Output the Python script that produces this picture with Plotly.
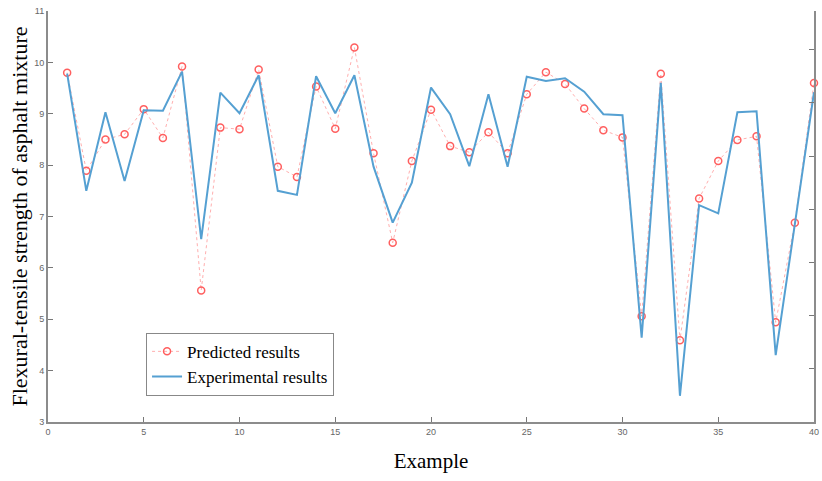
import plotly.graph_objects as go

examples = list(range(1, 41))
predicted = [9.80, 7.89, 8.50, 8.60, 9.09, 8.53, 9.92, 5.56, 8.73, 8.70,
             9.86, 7.97, 7.77, 9.53, 8.71, 10.29, 8.23, 6.49, 8.08, 9.08,
             8.37, 8.25, 8.64, 8.23, 9.38, 9.81, 9.58, 9.10, 8.68, 8.54,
             5.06, 9.78, 4.59, 7.35, 8.08, 8.49, 8.56, 4.94, 6.88, 9.60]
experimental = [9.78, 7.50, 9.03, 7.69, 9.07, 9.06, 9.82, 6.56, 9.41, 9.01,
                9.75, 7.50, 7.42, 9.73, 9.01, 9.75, 7.97, 6.88, 7.66, 9.51,
                8.99, 7.98, 9.38, 7.97, 9.72, 9.64, 9.69, 9.43, 8.99, 8.97,
                4.64, 9.60, 3.51, 7.22, 7.06, 9.03, 9.05, 4.30, 6.85, 9.42]
x_ticks = [0, 5, 10, 15, 20, 25, 30, 35, 40]
y_ticks = [3, 4, 5, 6, 7, 8, 9, 10, 11]
y_title = "Flexural-tensile strength of asphalt mixture"

fig = go.Figure()
fig.add_trace(go.Scatter(
    x=examples, y=predicted, mode="lines+markers", name="Predicted results",
    line=dict(color="rgba(255,120,120,0.6)", width=1, dash="dot"),
    marker=dict(symbol="circle-open", size=7, color="rgb(255,95,95)",
                line=dict(width=1.5, color="rgb(255,95,95)")),
    cliponaxis=False,
))
fig.add_trace(go.Scatter(
    x=examples, y=experimental, mode="lines", name="Experimental results",
    line=dict(color="rgb(85,160,210)", width=2),
))
# invisible trace to anchor right-hand axis
fig.add_trace(go.Scatter(
    x=[examples[0]], y=[experimental[0]], yaxis="y2", mode="markers",
    marker=dict(opacity=0), showlegend=False, hoverinfo="skip",
))

tickfont = dict(family="Liberation Sans, Arial, sans-serif", size=9, color="#666666")
serif = "Liberation Serif, Times New Roman, serif"
fig.update_layout(
    width=822, height=481,
    margin=dict(l=48, r=8, t=11, b=59),
    paper_bgcolor="white", plot_bgcolor="white",
    showlegend=True,
    legend=dict(
        x=0.128, y=0.217, xanchor="left", yanchor="top",
        bgcolor="white", bordercolor="#888888", borderwidth=1,
        font=dict(family=serif, size=17, color="black"),
        tracegroupgap=0, itemwidth=30,
    ),
    xaxis=dict(
        range=[0, 40], tickvals=x_ticks, ticks="inside", ticklen=5, tickwidth=1,
        tickcolor="#777777", showline=True, linecolor="#8c8c8c", linewidth=2,
        showgrid=False, zeroline=False, tickfont=tickfont, automargin=False,
        ticklabeloverflow="allow",
        title=dict(text="Example", standoff=18,
                   font=dict(family=serif, size=21, color="black")),
    ),
    yaxis=dict(
        range=[3, 11], tickvals=y_ticks, ticks="inside", ticklen=5, tickwidth=1,
        tickcolor="#777777", showline=True, linecolor="#8c8c8c", linewidth=2,
        showgrid=False, zeroline=False, tickfont=tickfont, automargin=False,
    ),
    yaxis2=dict(
        overlaying="y", side="right", anchor="x",
        range=[3, 10.727], domain=[0, 0.9659],
        tickvals=y_ticks, ticks="inside", ticklen=5, tickwidth=1, tickcolor="#777777",
        showticklabels=False, showline=True, linecolor="#8c8c8c", linewidth=2,
        showgrid=False, zeroline=False, automargin=False,
    ),
    annotations=[dict(
        text=y_title, xref="paper", yref="paper", x=0, y=0.5,
        xanchor="center", yanchor="middle", xshift=-29, textangle=-90,
        showarrow=False, font=dict(family=serif, size=22, color="black"),
    )],
)

fig.write_html(
    "out.html",
    config={"displayModeBar": False},
    post_script="document.body.style.margin='0';document.body.style.overflow='hidden';",
)
